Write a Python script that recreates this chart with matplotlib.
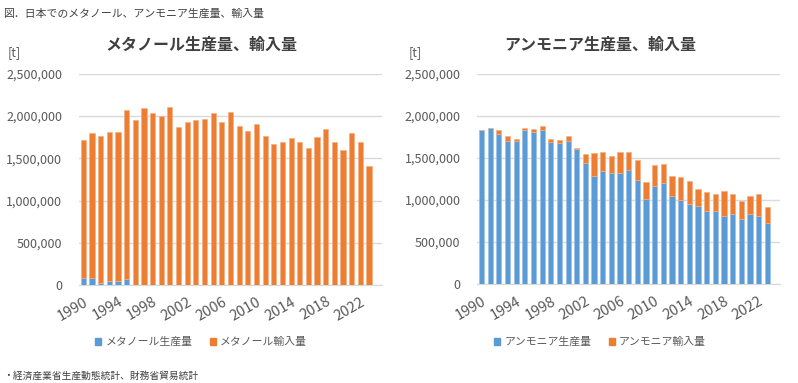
import numpy as np
import matplotlib.pyplot as plt

plt.rcParams['font.family'] = ['Noto Sans CJK JP', 'DejaVu Sans']

# Data (t)
years = list(range(1990, 2024))

methanol_prod = [87000, 79000, 20000, 43000, 43000, 71000, 0, 0, 0, 0,
                 0, 0, 0, 0, 0, 0, 0, 0, 0, 0,
                 0, 0, 0, 0, 0, 0, 0, 0, 0, 0,
                 0, 0, 0, 0]
methanol_total = [1722000, 1805000, 1765000, 1812000, 1812000, 2077000, 1950000, 2092000, 2041000, 2001000,
                  2104000, 1876000, 1935000, 1954000, 1970000, 2033000, 1935000, 2047000, 1879000, 1820000,
                  1911000, 1761000, 1670000, 1690000, 1737000, 1690000, 1627000, 1753000, 1844000, 1690000,
                  1596000, 1800000, 1690000, 1410000]

ammonia_prod = [1834000, 1854000, 1790000, 1703000, 1707000, 1834000, 1810000, 1834000, 1688000, 1683000,
                1707000, 1604000, 1445000, 1287000, 1343000, 1319000, 1323000, 1355000, 1243000, 1010000,
                1172000, 1208000, 1049000, 1006000, 954000, 927000, 875000, 867000, 815000, 839000,
                776000, 839000, 815000, 728000]
ammonia_total = [1834000, 1854000, 1834000, 1762000, 1730000, 1854000, 1846000, 1881000, 1723000, 1711000,
                 1766000, 1616000, 1552000, 1557000, 1572000, 1525000, 1576000, 1572000, 1473000, 1216000,
                 1421000, 1430000, 1287000, 1275000, 1224000, 1133000, 1100000, 1070000, 1109000, 1070000,
                 994000, 1053000, 1073000, 919000]

methanol_import = [t - p for t, p in zip(methanol_total, methanol_prod)]
ammonia_import = [t - p for t, p in zip(ammonia_total, ammonia_prod)]

blue = '#5B9BD5'
orange = '#ED7D31'
grid_c = '#D9D9D9'
text_c = '#595959'

fig = plt.figure(figsize=(7.98, 3.83), dpi=100)

fig.text(0.004, 0.978, '図．日本でのメタノール、アンモニア生産量、輸入量', fontsize=7.8,
         color='#404040', va='top', ha='left')
fig.text(0.004, 0.005, '・経済産業省生産動態統計、財務省貿易統計', fontsize=7,
         color='#404040', va='bottom', ha='left')


def draw(rect, prod, imp, title, labels, unit_x, cx):
    ax = fig.add_axes(rect)
    x = np.arange(len(years))
    ax.bar(x, prod, width=0.6, color=blue, edgecolor='#9DC3E6', linewidth=0.5, zorder=3)
    ax.bar(x, imp, bottom=prod, width=0.6, color=orange, edgecolor='#F4B183', linewidth=0.5, zorder=3)
    ax.set_xlim(-0.5, len(years) + 0.5)
    ax.set_ylim(0, 2500000)
    ax.set_yticks(np.arange(0, 2500001, 500000))
    ax.set_yticklabels([f'{v:,}' for v in range(0, 2500001, 500000)])
    ax.yaxis.grid(True, color=grid_c, linewidth=1, zorder=0)
    for s in ['top', 'right', 'left']:
        ax.spines[s].set_visible(False)
    ax.spines['bottom'].set_color(grid_c)
    ax.tick_params(axis='both', length=0, colors=text_c, labelsize=9)
    ax.tick_params(axis='y', pad=12)
    ax.tick_params(axis='x', pad=7)
    ticks = x[::4]
    ax.set_xticks(ticks)
    ax.set_xticklabels([str(years[i]) for i in ticks], rotation=30, ha='right',
                       rotation_mode='anchor', fontsize=10.5)
    fig.text(cx, 0.882, title, fontsize=11.5, fontweight='bold', color='#404040',
             ha='center', va='center')
    fig.text(unit_x, 0.862, '[t]', fontsize=9, color=text_c, ha='left', va='center')
    h1 = plt.Rectangle((0, 0), 1, 1, color=blue)
    h2 = plt.Rectangle((0, 0), 1, 1, color=orange)
    ax.legend([h1, h2], labels, loc='center', bbox_to_anchor=(cx, 0.107),
              bbox_transform=fig.transFigure, ncol=2, frameon=False, fontsize=7.8,
              handlelength=0.55, handleheight=0.55, handletextpad=0.4,
              columnspacing=1.6, labelcolor=text_c)
    return ax


draw([0.099, 0.256, 0.3797, 0.551], methanol_prod, methanol_import,
     'メタノール生産量、輸入量', ['メタノール生産量', 'メタノール輸入量'], 0.010, 0.252)
draw([0.598, 0.258, 0.3797, 0.549], ammonia_prod, ammonia_import,
     'アンモニア生産量、輸入量', ['アンモニア生産量', 'アンモニア輸入量'], 0.512, 0.752)

fig.savefig('out.png', dpi=100, facecolor='white')
